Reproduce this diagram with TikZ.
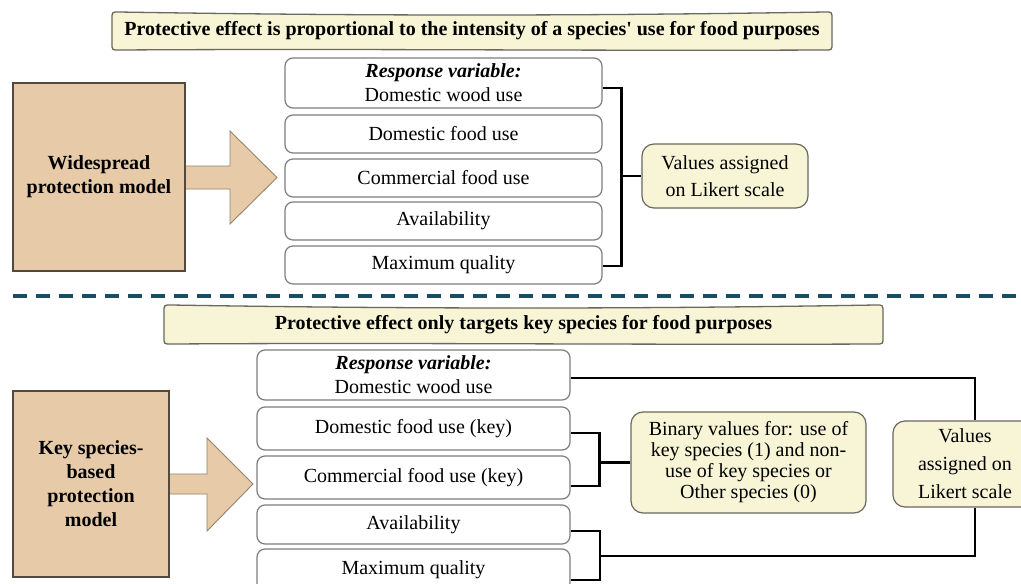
\documentclass[tikz,border=0pt]{standalone}
\usepackage{fontspec}
\setmainfont{Liberation Serif}[Ligatures=TeXOff]
\usetikzlibrary{calc}
\definecolor{tanfill}{RGB}{231,203,169}
\definecolor{tanedge}{RGB}{85,72,60}
\definecolor{arrowedge}{RGB}{150,130,105}
\definecolor{creamfill}{RGB}{247,245,214}
\definecolor{creamedge}{RGB}{105,105,95}
\definecolor{itemedge}{RGB}{125,125,125}
\definecolor{sepcolor}{RGB}{24,78,100}
\newcommand\bannerpath[4]{%
  \draw[bannershape]
    (#1,{#2+7}) -- (#1,{#4-7}) .. controls (#1,#4) .. ({#1+7},#4)
    .. controls ({#1+250},{#4-1.5}) and ({#3-250},{#4+1}) .. ({#3-7},#4)
    .. controls (#3,#4) .. (#3,{#4-7}) -- (#3,{#2+7})
    .. controls (#3,#2) .. ({#3-7},#2)
    .. controls ({#3-250},{#2+4}) and ({#1+250},{#2+4}) .. ({#1+7},#2)
    .. controls (#1,#2) .. (#1,{#2+7}) -- cycle;}
\begin{document}
\begin{tikzpicture}[x=1pt,y=-1pt,
  font=\fontsize{20}{24}\selectfont,
  bannershape/.style={fill=creamfill, draw=creamedge, line width=1.3pt},
  bannertext/.style={inner sep=0pt, font=\fontsize{20}{24}\selectfont\bfseries},
  tanbox/.style={draw=tanedge, fill=tanfill, line width=1.3pt, inner sep=0pt, align=center, font=\fontsize{20}{24}\selectfont\bfseries},
  fatarrow/.style={fill=tanfill, draw=arrowedge, line width=0.9pt},
  item/.style={draw=itemedge, fill=white, line width=1.2pt, rounded corners=8pt, inner sep=0pt, align=center, minimum width=317pt},
  itemb/.style={item, minimum width=313pt},
  cream/.style={draw=creamedge, fill=creamfill, line width=1.2pt, rounded corners=12pt, inner sep=0pt, align=center},
  conn/.style={draw=black, line width=2.3pt},
  sepline/.style={draw=sepcolor, line width=4pt, dash pattern=on 14pt off 9pt}
]
\clip (0,0) rectangle (1021,584);
\fill[white] (0,0) rectangle (1021,584);

% ---------- upper panel ----------
\bannerpath{112}{12}{832}{50}
\node[bannertext] (ban1) at (472,31) {Protective effect is proportional to the intensity of a species' use for food purposes};

\draw[fatarrow] (185,166) -- (230,166) -- (230,131) -- (277,177.5) -- (230,224) -- (230,189) -- (185,189) -- cycle;
\node[tanbox, minimum width=172pt, minimum height=188pt] (m1) at (99,177) {Widespread\\protection model};

\node[item, minimum height=50pt] (t1) at (443.5,83) {\textbf{\textit{Response variable:}}\\Domestic wood use};
\node[item, minimum height=38pt] (t2) at (443.5,134) {Domestic food use};
\node[item, minimum height=38pt] (t3) at (443.5,178) {Commercial food use};
\node[item, minimum height=38pt] (t4) at (443.5,221) {Availability};
\node[item, minimum height=38pt] (t5) at (443.5,265) {Maximum quality};

\node[cream, minimum width=166pt, minimum height=64pt, font=\fontsize{20}{27}\selectfont] (v1) at (725,176) {Values assigned\\on Likert scale};

\coordinate (j1) at ([xshift=-20pt]v1.west);
\draw[conn] ([yshift=-5pt]t1.east) -| (j1) |- ([yshift=-1pt]t5.east);
\draw[conn] (j1) -- (v1.west);

% ---------- separator ----------
\draw[sepline] (13,296) -- (1030,296);

% ---------- lower panel ----------
\bannerpath{164}{305}{883}{344}
\node[bannertext] (ban2) at (523.5,324.5) {Protective effect only targets key species for food purposes};

\draw[fatarrow] (169,474) -- (207,474) -- (207,438) -- (253,484) -- (207,531) -- (207,494) -- (169,494) -- cycle;
\node[tanbox, minimum width=156pt, minimum height=186pt] (m2) at (91,484) {Key species-\\based\\protection\\model};

\node[itemb, minimum height=50pt] (b1) at (413.5,375) {\textbf{\textit{Response variable:}}\\Domestic wood use};
\node[itemb, minimum height=43pt] (b2) at (413.5,428.5) {Domestic food use (key)};
\node[itemb, minimum height=43pt] (b3) at (413.5,477.5) {Commercial food use (key)};
\node[itemb, minimum height=39pt] (b4) at (413.5,524.5) {Availability};
\node[itemb, minimum height=42pt] (b5) at (413.5,570) {Maximum quality};

\node[cream, minimum width=235pt, minimum height=101pt, font=\fontsize{20}{21}\selectfont] (bin) at (748.5,462.5) {Binary values for: use of\\key species (1) and non-\\use of key species or\\Other species (0)};
\node[cream, minimum width=144pt, minimum height=86pt, font=\fontsize{20}{28}\selectfont] (v2) at (965,464) {Values\\assigned on\\Likert scale};

\draw[conn] ([yshift=-3pt]b1.east) -| ([xshift=10pt]v2.north);

\coordinate (j2) at ([xshift=-31pt]bin.west);
\draw[conn] ([yshift=-4.5pt]b2.east) -| (j2) |- ([yshift=-8.5pt]b3.east);
\draw[conn] (j2) -- (bin.west);

\coordinate (j3) at (600,556);
\draw[conn] ([yshift=-6.5pt]b4.east) -| (j3) |- ([yshift=-10pt]b5.east);
\draw[conn] (j3) -| ([xshift=10pt]v2.south);
\end{tikzpicture}
\end{document}
